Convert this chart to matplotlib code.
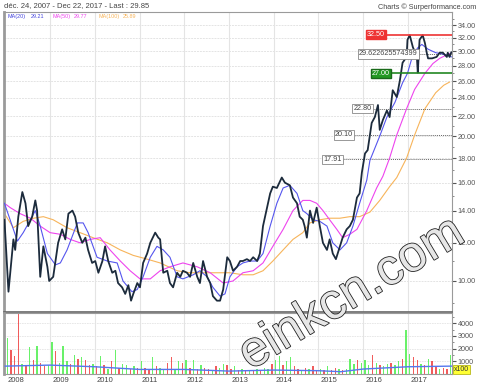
import numpy as np
import matplotlib
matplotlib.use("Agg")
import matplotlib.pyplot as plt
import matplotlib.patheffects as pe
from matplotlib.ticker import FixedLocator, FormatStrFormatter, NullFormatter

plt.rcParams['font.family'] = ['Liberation Sans', 'DejaVu Sans']

# weekly close (decimal year, price)
price_t = [2007.98, 2008.07, 2008.18, 2008.22, 2008.29, 2008.38, 2008.45, 2008.51, 2008.60, 2008.67,
           2008.71, 2008.78, 2008.85, 2008.94, 2008.98, 2009.07, 2009.12, 2009.18, 2009.27, 2009.34,
           2009.41, 2009.50, 2009.56, 2009.63, 2009.72, 2009.79, 2009.85, 2009.94, 2010.01, 2010.08,
           2010.17, 2010.23, 2010.30, 2010.39, 2010.46, 2010.52, 2010.61, 2010.68, 2010.75, 2010.81,
           2010.86, 2010.95, 2011.01, 2011.08, 2011.17, 2011.24, 2011.35, 2011.42, 2011.46, 2011.53,
           2011.62, 2011.68, 2011.75, 2011.84, 2011.91, 2011.97, 2012.06, 2012.13, 2012.20, 2012.29,
           2012.35, 2012.42, 2012.51, 2012.58, 2012.64, 2012.73, 2012.80, 2012.87, 2012.96, 2013.02,
           2013.09, 2013.18, 2013.25, 2013.31, 2013.40, 2013.47, 2013.54, 2013.63, 2013.69, 2013.76,
           2013.85, 2013.92, 2013.98, 2014.07, 2014.18, 2014.25, 2014.36, 2014.43, 2014.52, 2014.58,
           2014.65, 2014.69, 2014.74, 2014.81, 2014.88, 2014.96, 2015.03, 2015.10, 2015.19, 2015.25,
           2015.32, 2015.39, 2015.48, 2015.54, 2015.63, 2015.70, 2015.77, 2015.86, 2015.92, 2015.97,
           2016.04, 2016.10, 2016.19, 2016.26, 2016.33, 2016.37, 2016.44, 2016.53, 2016.59, 2016.66,
           2016.75, 2016.82, 2016.88, 2016.97, 2016.99, 2017.04, 2017.11, 2017.20, 2017.22, 2017.26,
           2017.33, 2017.38, 2017.42, 2017.45, 2017.54, 2017.64, 2017.71, 2017.78, 2017.87, 2017.89,
           2017.93, 2017.97]
price = [13.4, 9.5, 12.2, 11.6, 13.6, 15.3, 14.5, 13.0, 13.6, 14.7,
         14.0, 10.2, 11.8, 10.7, 10.0, 10.2, 11.0, 12.0, 12.8, 12.2,
         13.8, 14.0, 13.6, 12.6, 12.0, 12.3, 11.6, 10.9, 11.0, 10.4,
         11.0, 11.8, 11.0, 10.4, 10.5, 9.9, 9.7, 9.4, 9.8, 9.1,
         9.4, 9.9, 9.7, 10.9, 11.4, 12.0, 12.6, 12.3, 12.2, 10.4,
         10.5, 9.9, 9.7, 10.4, 10.2, 10.5, 10.4, 10.2, 10.9, 10.2,
         9.9, 11.0, 10.2, 9.9, 9.3, 9.1, 9.1, 9.6, 11.2, 11.0,
         10.5, 10.7, 11.0, 11.0, 11.1, 11.0, 11.2, 11.0, 11.4, 13.0,
         14.2, 15.2, 15.7, 15.6, 16.4, 16.0, 15.8, 14.9, 14.5, 13.6,
         13.4, 13.0, 12.3, 14.0, 13.2, 14.2, 13.0, 12.0, 11.6, 12.2,
         11.4, 11.1, 11.8, 12.3, 12.8, 13.0, 13.4, 14.9, 15.2, 16.8,
         18.4, 18.7, 21.3, 21.9, 23.2, 20.6, 21.6, 22.6, 21.9, 24.9,
         24.1, 26.1, 28.4, 29.2, 31.7, 32.4, 30.6, 29.2, 27.1, 31.7,
         32.4, 31.2, 29.8, 29.0, 29.0, 29.2, 29.8, 29.8, 29.2, 29.8,
         29.2, 29.85]

ma20_t = [2007.98, 2008.27, 2008.40, 2008.56, 2008.67, 2008.78, 2008.94, 2009.12, 2009.23, 2009.38,
          2009.61, 2009.74, 2009.85, 2010.05, 2010.28, 2010.50, 2010.63, 2010.83, 2010.95, 2011.08,
          2011.24, 2011.39, 2011.53, 2011.68, 2011.84, 2011.97, 2012.20, 2012.35, 2012.51, 2012.64,
          2012.80, 2012.91, 2013.02, 2013.18, 2013.31, 2013.47, 2013.63, 2013.76, 2013.92, 2014.07,
          2014.21, 2014.36, 2014.52, 2014.65, 2014.74, 2014.88, 2015.03, 2015.19, 2015.32, 2015.48,
          2015.63, 2015.77, 2015.92, 2016.08, 2016.15, 2016.37, 2016.53, 2016.71, 2016.88, 2016.99,
          2017.11, 2017.22, 2017.31, 2017.45, 2017.62, 2017.78, 2017.93, 2017.97]
ma20 = [14.5, 12.1, 12.6, 13.4, 14.0, 13.0, 11.4, 10.8, 10.9, 11.6,
        13.2, 13.2, 12.6, 11.2, 11.0, 10.9, 10.0, 9.5, 9.6, 10.2,
        11.2, 11.8, 11.6, 11.2, 10.2, 10.1, 10.3, 10.5, 10.2, 9.7,
        9.3, 9.4, 10.2, 10.7, 10.9, 11.0, 11.0, 11.4, 13.0, 14.5,
        15.6, 15.8, 15.2, 14.0, 13.8, 13.4, 13.3, 13.0, 12.0, 11.6,
        12.0, 13.0, 14.5, 16.2, 17.8, 20.0, 21.9, 23.5, 25.8, 27.0,
        29.5, 30.5, 31.0, 30.3, 29.8, 29.6, 29.3, 29.21]

ma50_t = [2007.98, 2008.11, 2008.33, 2008.56, 2008.78, 2009.00, 2009.23, 2009.45, 2009.67, 2009.90,
          2010.12, 2010.34, 2010.57, 2010.79, 2011.01, 2011.24, 2011.46, 2011.68, 2011.97, 2012.29,
          2012.58, 2012.87, 2013.09, 2013.31, 2013.54, 2013.76, 2013.98, 2014.21, 2014.43, 2014.65,
          2014.81, 2014.96, 2015.10, 2015.25, 2015.41, 2015.54, 2015.70, 2015.86, 2016.08, 2016.30,
          2016.44, 2016.59, 2016.75, 2016.97, 2017.15, 2017.38, 2017.56, 2017.71, 2017.87, 2017.97]
ma50 = [14.5, 14.2, 13.8, 13.5, 13.0, 12.6, 12.5, 12.2, 12.0, 12.2,
        12.3, 11.6, 11.0, 10.5, 10.1, 10.1, 10.5, 10.7, 10.9, 10.7,
        10.4, 9.9, 10.0, 10.4, 10.5, 10.9, 11.8, 12.8, 14.0, 14.7,
        14.7, 14.5, 14.0, 13.4, 12.8, 12.3, 12.5, 12.8, 14.0, 15.6,
        16.5, 18.0, 20.1, 22.8, 25.0, 27.0, 28.3, 29.0, 29.5, 29.77]

ma100_t = [2007.98, 2008.18, 2008.40, 2008.63, 2008.85, 2009.07, 2009.38, 2009.67, 2009.96, 2010.28,
           2010.57, 2010.86, 2011.17, 2011.46, 2011.84, 2012.13, 2012.42, 2012.73, 2013.02, 2013.31,
           2013.54, 2013.76, 2013.98, 2014.21, 2014.43, 2014.65, 2014.81, 2015.03, 2015.25, 2015.48,
           2015.70, 2015.92, 2016.15, 2016.37, 2016.59, 2016.75, 2016.97, 2017.15, 2017.38, 2017.62,
           2017.80, 2017.93]
ma100 = [13.8, 12.9, 13.3, 13.5, 13.6, 13.4, 12.9, 12.6, 12.3, 12.0,
         11.6, 11.3, 11.1, 10.9, 10.5, 10.4, 10.4, 10.4, 10.4, 10.3,
         10.3, 10.5, 11.0, 11.6, 12.2, 12.6, 13.2, 13.4, 13.5, 13.5,
         13.6, 13.6, 13.9, 14.7, 15.7, 16.4, 18.0, 20.1, 22.8, 24.6,
         25.5, 25.89]

# support / resistance levels and the date they start from
levels = [32.50, 27.00, 29.622625574399, 22.80, 20.10, 17.91]
level_text = ['32.50', '27.00', '29.622625574399', '22.80', '20.10', '17.91']
level_start = [2016.48, 2016.59, 2017.22, 2016.19, 2015.77, 2015.52]
level_kind = ['res', 'sup', 'info', 'info', 'info', 'info']

# monthly volume (x100)
volume = [2800, 1900, 1400, 4900, 800, 700, 2100, 1100, 2200, 900, 600, 700,
          2500, 1800, 900, 2200, 1000, 800, 1500, 1200, 1300, 1100, 700, 800,
          600, 1400, 700, 400, 1000, 1900, 500, 800, 700, 400, 600, 500,
          1000, 500, 400, 1300, 600, 500, 300, 900, 1300, 400, 1000, 900,
          1100, 500, 1100, 400, 700, 500, 400, 300, 600, 500, 800, 700,
          400, 600, 300, 400, 300, 200, 300, 400, 300, 500, 400, 800,
          1100, 1400, 700, 1000, 1300, 600, 400, 300, 500, 400, 600, 300,
          400, 300, 600, 300, 500, 400, 300, 400, 1200, 800, 1100, 900,
          1100, 700, 1500, 900, 700, 600, 800, 900, 700, 1000, 1200, 3500,
          1600, 1300, 1100, 800, 700, 1200, 1000, 600, 400, 500, 400, 1500]
vol_dir = ("grrrgrgrgrrg" "grgggrgrgrrg" "rgrgrgrggrgr" "grrgrggrrggr" "grgrgrrgrggr"
           "rgrgrgrgrggr" "ggrggrrgrgrr" "grgrrgrgggrg" "ggrgrggrggrg" "grrgrgrrgrrg")
vol_ma_t = [2008.0, 2009.0, 2010.0, 2011.0, 2012.0, 2013.0, 2014.0, 2015.0, 2015.5, 2016.0, 2017.0, 2017.97]
vol_ma = [620, 700, 570, 360, 360, 230, 310, 260, 180, 390, 570, 620]

years = list(range(2008, 2018))

fig = plt.figure(figsize=(4.8, 3.88), dpi=100)
ax = fig.add_axes([4 / 480, 76 / 388, 448 / 480, 300 / 388])
vax = fig.add_axes([4 / 480, 14 / 388, 448 / 480, 61 / 388])

grid_c = '#e4e4e4'
for a in (ax, vax):
    a.set_xlim(2007.97, 2017.985)
    for y in years[1:]:
        a.axvline(y, color=grid_c, lw=0.8, zorder=0)
    for s in a.spines.values():
        s.set_color('#9a9a9a')
        s.set_linewidth(0.8)
    a.spines['left'].set_linewidth(2)
    a.set_xticks([])
ax.spines['bottom'].set_color('#666666')
ax.spines['bottom'].set_linewidth(1.2)

# main price panel
ax.set_yscale('log')
ax.set_ylim(8.62, 36.2)
ax.yaxis.tick_right()
major = list(range(10, 36, 2))
ax.yaxis.set_major_locator(FixedLocator(major))
ax.yaxis.set_major_formatter(FormatStrFormatter('%.2f'))
ax.yaxis.set_minor_locator(FixedLocator(list(range(9, 36, 2))))
ax.yaxis.set_minor_formatter(NullFormatter())
ax.tick_params(axis='y', which='major', labelsize=5.2, length=3, pad=1, colors='#555555')
ax.tick_params(axis='y', which='minor', length=1.5, colors='#777777')
for v in major:
    ax.axhline(v, color=grid_c, lw=0.7, ls=(0, (2, 1)), zorder=0)

ax.plot(ma100_t, ma100, color='#f7b45a', lw=0.8, zorder=2)
ax.plot(ma50_t, ma50, color='#ee44ee', lw=0.8, zorder=2)
ax.plot(ma20_t, ma20, color='#5555ee', lw=0.8, zorder=3)
ax.plot(price_t, price, color='#1c2b3c', lw=1.3, zorder=4)

for lv, txt, t0, kind in zip(levels, level_text, level_start, level_kind):
    if kind == 'res':
        ax.plot([t0, 2017.985], [lv, lv], color='#ee3333', lw=1.2, zorder=5)
        box = dict(boxstyle='square,pad=0.15', fc='#ee3333', ec='#ee3333')
        tc = 'white'
    elif kind == 'sup':
        ax.plot([t0, 2017.985], [lv, lv], color='#228822', lw=1.2, zorder=5)
        box = dict(boxstyle='square,pad=0.15', fc='#229922', ec='#1a6a1a')
        tc = 'white'
    else:
        ax.plot([t0, 2017.985], [lv, lv], color='#666666', lw=0.7, ls=(0, (1, 1)), zorder=1)
        box = dict(boxstyle='square,pad=0.15', fc='white', ec='#888888', lw=0.6)
        tc = '#444444'
    ax.text(t0, lv, txt, ha='right', va='center', fontsize=5.2, color=tc, bbox=box, zorder=6)

legend_items = [('MA(20)', 0.0067, '#4444dd'), ('29.21', 0.060, '#4444dd'),
                ('MA(50)', 0.109, '#ee44ee'), ('29.77', 0.155, '#ee44ee'),
                ('MA(100)', 0.210, '#f7b45a'), ('25.89', 0.266, '#f7b45a')]
for txt, xpos, c in legend_items:
    ax.text(xpos, 0.993, txt, color=c, fontsize=3.9, transform=ax.transAxes, va='top')

# volume panel
vol_t = [y + (m + 0.5) / 12 for y in years for m in range(12)]
vcol = ['#44ee44' if c == 'g' else '#ee3333' for c in vol_dir]
vax.bar(vol_t, volume, width=0.03, color=vcol, alpha=0.8, zorder=2)
vax.plot(vol_ma_t, vol_ma, color='#5577ee', lw=1.0, zorder=3)
vax.set_ylim(0, 4800)
vax.yaxis.tick_right()
vax.set_yticks([1000, 2000, 3000, 4000])
vax.set_yticks([500, 1500, 2500, 3500, 4500], minor=True)
vax.tick_params(axis='y', which='major', labelsize=5.2, length=3, pad=1, colors='#555555')
vax.tick_params(axis='y', which='minor', length=1.5, colors='#777777')
for v in [1000, 2000, 3000, 4000]:
    vax.axhline(v, color=grid_c, lw=0.6, ls=(0, (2, 1)), zorder=0)
vax.text(1.004, 0.08, 'x100', transform=vax.transAxes, fontsize=5, color='#333333', va='center',
         bbox=dict(boxstyle='square,pad=0.15', fc='#ffff33', ec='#aaaa00', lw=0.5))
for y in years:
    vax.text(y + 0.05, -0.05, str(y), transform=vax.get_xaxis_transform(), fontsize=5.5,
             color='#444444', va='top', ha='left')

fig.text(4 / 480, 1 - 6 / 388, 'déc. 24, 2007 - Dec 22, 2017 - Last : 29.85', fontsize=5.5,
         color='#444444', va='center')
fig.text(476 / 480, 1 - 7 / 388, 'Charts © Surperformance.com', fontsize=5.2,
         color='#444444', va='center', ha='right')

wm = fig.text(352 / 480, 1 - 294 / 388, 'einkcn.com', fontsize=36, rotation=31,
              ha='center', va='center', color='#e6e6e6', zorder=10)
wm.set_path_effects([pe.withStroke(linewidth=1.2, foreground='#222222')])

fig.savefig('out.png', dpi=100)
